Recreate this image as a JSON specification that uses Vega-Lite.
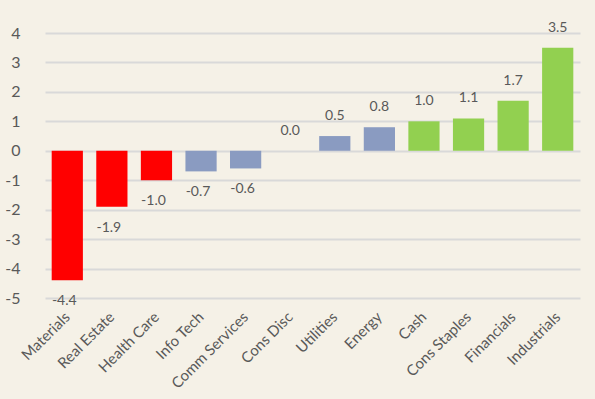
{
  "$schema": "https://vega.github.io/schema/vega-lite/v6.json",
  "autosize": "none",
  "width": 535,
  "height": 265,
  "padding": {"left": 45, "top": 33, "right": 15, "bottom": 101},
  "background": "#F5F1E7",
  "config": {"view": {"stroke": null}, "font": "Lato"},
  "data": {"values": [
    {"sector": "Materials", "value": -4.4, "group": "neg"},
    {"sector": "Real Estate", "value": -1.9, "group": "neg"},
    {"sector": "Health Care", "value": -1.0, "group": "neg"},
    {"sector": "Info Tech", "value": -0.7, "group": "mid"},
    {"sector": "Comm Services", "value": -0.6, "group": "mid"},
    {"sector": "Cons Disc", "value": 0.0, "group": "mid"},
    {"sector": "Utilities", "value": 0.5, "group": "mid"},
    {"sector": "Energy", "value": 0.8, "group": "mid"},
    {"sector": "Cash", "value": 1.0, "group": "pos"},
    {"sector": "Cons Staples", "value": 1.1, "group": "pos"},
    {"sector": "Financials", "value": 1.7, "group": "pos"},
    {"sector": "Industrials", "value": 3.5, "group": "pos"}
  ]},
  "encoding": {
    "x": {"field": "sector", "type": "nominal", "sort": null,
      "scale": {"paddingInner": 0.3, "paddingOuter": 0.15},
      "axis": {"title": null, "labelAngle": -45, "labelAlign": "right", "labelBaseline": "middle", "domain": false, "ticks": false, "labelPadding": 16, "labelFontSize": 15, "labelColor": "#595959"}},
    "y": {"field": "value", "type": "quantitative",
      "scale": {"domain": [-5, 4], "nice": false},
      "axis": {"title": null, "values": [-5,-4,-3,-2,-1,0,1,2,3,4], "labelExpr": "replace(datum.label, '\u2212', '-')", "domain": false, "ticks": false, "labelPadding": 25, "labelFontSize": 16, "labelColor": "#595959", "gridColor": "#D9D9D9", "gridWidth": 2}}
  },
  "layer": [
    {"mark": {"type": "bar"},
     "encoding": {
       "y2": {"datum": 0},
       "color": {"field": "group", "type": "nominal", "legend": null,
         "scale": {"domain": ["neg", "mid", "pos"], "range": ["#FF0000", "#8A9BC1", "#92D050"]}}
     }},
    {"mark": {"type": "text", "fontSize": 14, "color": "#595959", "dy": -20, "text": {"expr": "format(datum.value, '.1f')"}},
     "transform": [{"filter": "datum.value >= 0"}],
     "encoding": {}},
    {"mark": {"type": "text", "fontSize": 14, "color": "#595959", "dy": 21, "dx": -3, "text": {"expr": "replace(format(datum.value, '.1f'), '\u2212', '-')"}},
     "transform": [{"filter": "datum.value < 0"}],
     "encoding": {}}
  ]
}
